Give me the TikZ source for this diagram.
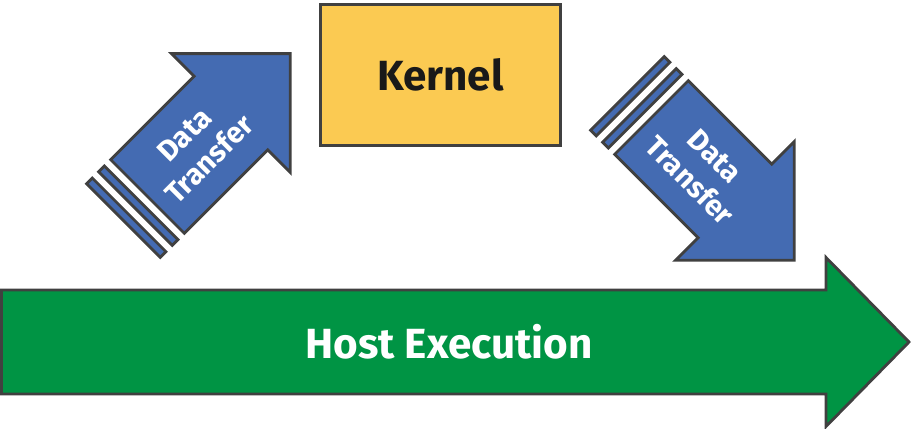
\documentclass[tikz,border=0pt]{standalone}
\usepackage{fontspec}
\setmainfont{Fira Sans}
\usetikzlibrary{positioning}

\definecolor{xferblue}{RGB}{68,107,178}
\definecolor{hostgreen}{RGB}{0,148,68}
\definecolor{kernelyellow}{RGB}{251,202,82}
\definecolor{edgegray}{RGB}{64,64,64}

\begin{document}
\begin{tikzpicture}[
    x=0.03cm, y=0.03cm,
    outline/.style={draw=edgegray, line width=2.4pt, line join=miter},
    xferarrow/.style={outline, fill=xferblue},
    hostarrow/.style={outline, fill=hostgreen},
    kernelbox/.style={outline, fill=kernelyellow, minimum width=7.2cm, minimum height=4.23cm, font=\fontsize{36}{40}\selectfont\bfseries, text=black!90},
    bigtext/.style={font=\fontsize{36}{40}\selectfont\bfseries, text=white},
    xfertext/.style={font=\fontsize{25}{30}\selectfont\bfseries, text=white, align=center}
]

\useasboundingbox (0,0) rectangle (913,429);

% Host execution arrow
\draw [hostarrow] (1.5,35) -- (826,35) -- (826,2.5) -- (909,87) -- (826,171.5) -- (826,139) -- (1.5,139) -- cycle;
\node [bigtext] (host) at (449,87) {Host Execution};

% Kernel
\node [kernelbox] (kernel) at (440.5,354) {Kernel};

% Data transfer to the device
\begin{scope}[shift={(147.5,232.5)}, rotate=45]
    \draw [xferarrow] (0,-52) -- (118,-52) -- (118,-84) -- (202,0) -- (118,84) -- (118,52) -- (0,52) -- cycle;
    \draw [xferarrow] (-9,-52) rectangle (-17,52);
    \draw [xferarrow] (-26,-52) rectangle (-34,52);
    \node [xfertext, rotate=45] (xferin) at (70,0) {Data\\Transfer};
\end{scope}

% Data transfer back to the host
\begin{scope}[shift={(651.5,311.5)}, rotate=-45]
    \draw [xferarrow] (0,-52) -- (118,-52) -- (118,-84) -- (202,0) -- (118,84) -- (118,52) -- (0,52) -- cycle;
    \draw [xferarrow] (-9,-52) rectangle (-17,52);
    \draw [xferarrow] (-26,-52) rectangle (-34,52);
    \node [xfertext, rotate=-45] (xferout) at (72,0) {Data\\Transfer};
\end{scope}

\end{tikzpicture}
\end{document}
